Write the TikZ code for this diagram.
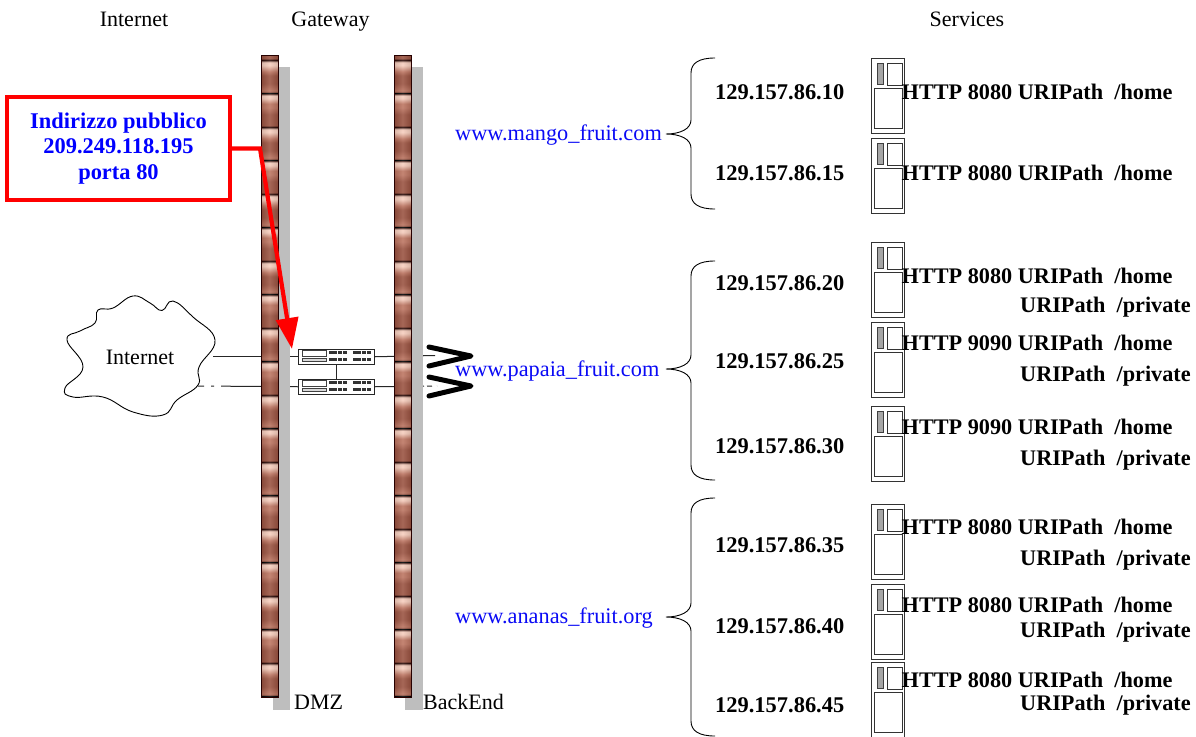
\documentclass[tikz,border=0pt]{standalone}
\usepackage{fontspec}
\setmainfont{Liberation Serif}
\usetikzlibrary{arrows.meta}
\definecolor{wallgrey}{HTML}{BEBEBE}
\definecolor{linkblue}{HTML}{0A0AF5}
\definecolor{bdark}{HTML}{2A0A06}
\definecolor{bmid}{HTML}{9A5240}
\definecolor{bmidb}{HTML}{BC7460}
\definecolor{blight}{HTML}{F6CDBD}
\pgfdeclareverticalshading{brickshadea}{100bp}{
  color(0bp)=(bdark); color(25bp)=(bdark); color(28bp)=(bmid); color(44bp)=(bmid);
  color(54bp)=(bmidb); color(60bp)=(bmidb); color(68bp)=(blight); color(72bp)=(blight);
  color(75bp)=(bdark); color(100bp)=(bdark)}
\pgfdeclareverticalshading{brickshadeb}{100bp}{
  color(0bp)=(bdark); color(25bp)=(bdark); color(29bp)=(bmidb); color(40bp)=(bmid);
  color(52bp)=(bmid); color(58bp)=(bmidb); color(67bp)=(blight); color(71.5bp)=(blight);
  color(75bp)=(bdark); color(100bp)=(bdark)}
\tikzset{
  x=1pt, y=-1pt,
  txt/.style={inner sep=0pt, anchor=base, font=\fontsize{22}{26}\selectfont},
  plain/.style={txt, anchor=base west},
  ip/.style={plain, font=\fontsize{22.45}{26}\selectfont\bfseries},
  svc/.style={plain, font=\fontsize{22.25}{26}\selectfont\bfseries},
  url/.style={plain, text=linkblue, font=\fontsize{22.3}{26}\selectfont},
  wire/.style={draw=black!85, line width=1pt},
  chev/.style={draw=black, line width=5pt, line join=round, line cap=round},
  brace/.style={draw=black, line width=0.9pt},
  outerbox/.style={draw=black!80, fill=white, line width=0.9pt},
  innerbox/.style={draw=black!80, fill=white, line width=0.9pt},
  switchbox/.style={draw=black!85, fill=white, line width=1pt, minimum width=76pt, minimum height=14.5pt, inner sep=0pt, anchor=north west},
  port/.style={fill=black!80},
  redbox/.style={draw=red, fill=white, line width=4pt, minimum width=223pt, minimum height=103pt, inner sep=0pt, align=center,
     text=blue, font=\fontsize{22.45}{25.5}\selectfont\bfseries},
  redarrow/.style={draw=red, line width=4.2pt, -{Triangle[length=31pt,width=22pt]}},
}
\newcommand{\firewall}[2]{% #1 = left x of bricks, #2 = left x of grey foot
  \fill[wallgrey] (#1+17,67) rectangle (#1+29,710);
  \fill[wallgrey] (#2,697) rectangle (#1+29,710);
  \begin{scope}
    \clip (#1,55) rectangle (#1+17,697);
    \foreach \k in {-1,...,19} {
      \pgfmathparse{isodd(\k)?"brickshadea":"brickshadeb"}
      \edef\brickname{\pgfmathresult}
      \shade[shading=\brickname] (#1,{60+33.5*\k}) rectangle (#1+17,{60+33.5*(\k+1)+0.3});
    }
    \shade[left color=black, right color=black, middle color=white, opacity=0.12] (#1,55) rectangle (#1+17,697);
  \end{scope}
  \draw[line width=1pt, draw=black!85!red] (#1,55) rectangle (#1+17,697);
}
\newcommand{\server}[2]{% #1 name, #2 top y
  \node[outerbox, minimum width=33pt, minimum height=75pt, inner sep=0pt, anchor=north west] (#1) at (871,#2) {};
  \draw[draw=black!75, fill=black!35, line width=0.9pt] (877,#2+5) rectangle (883,#2+26);
  \draw[innerbox] (887,#2+5) rectangle (902,#2+27);
  \draw[innerbox] (874,#2+30) rectangle (902,#2+70);
}
\newcommand{\switchparts}[2]{% #1 node name, #2 top y
  \draw[draw=black!75, line width=0.9pt, fill=white] (302,#2+1.5) rectangle (326,#2+7);
  \draw[draw=black!75, line width=0.9pt, fill=black!15] (302,#2+9.5) rectangle (326,#2+12);
  \foreach \px in {328.5,333.3,338.1,342.9,352.5,357.3,362.1,366.9} {
    \fill[port] (\px,#2+1.5) rectangle (\px+4,#2+5.4);
    \fill[port] (\px,#2+8.5) rectangle (\px+4,#2+12.4);
  }
}
\newcommand{\bracecurve}[4]{% #1 top y, #2 tip y, #3 bottom y, #4 name
  \coordinate (#4) at (666,#2);
  \draw[brace] (715,#1) .. controls (699,#1) and (691,#1+5) .. (691,#1+15)
     -- (691,#2-14) .. controls (691,#2-5) and (680,#2) .. (#4)
     .. controls (680,#2) and (691,#2+5) .. (691,#2+14)
     -- (691,#3-15) .. controls (691,#3-5) and (699,#3) .. (715,#3);
}
\begin{document}
\begin{tikzpicture}
\useasboundingbox (0,0) rectangle (1196,736);

% headers
\node[txt] (hInternet) at (134,27) {Internet};
\node[txt] (hGateway) at (330.5,27) {Gateway};
\node[txt] (hServices) at (967,27) {Services};

% cloud
\draw[line width=0.9pt, fill=white] plot[smooth cycle, tension=0.75] coordinates {
 (162,310.5) (173,301) (193,317) (215,340) (199,367) (198,385) (177,400) (163,415) (133,412)
 (103,397) (73,397) (65,388) (83,367) (67,340) (80,331) (95,323) (98,310) (113,308) (133,296) (150,303)};
\node[txt] (cloud) at (140,364) {Internet};
\coordinate (cloudA) at (213,356);
\coordinate (cloudB) at (198,386);
\coordinate (outA) at (435,355.5);
\coordinate (outB) at (437,386);

% switches (nodes first so connectors can use them)
\node[switchbox] (sw1) at (298,349) {};
\node[switchbox] (sw2) at (298,379) {};

% connectors under the walls
\draw[wire] (cloudA) -- (sw1.west |- cloudA);
\draw[wire, dash pattern=on 77pt off 7pt on 3pt off 7pt on 8pt off 100pt] (sw2.west) -- (cloudB);
\draw[wire] (sw1.east) -- (outA);
\draw[wire, dash pattern=on 49pt off 3pt on 5pt off 5pt on 2pt off 100pt] (sw2.east) -- (outB);
\draw[wire] (sw1.south) -- (sw2.north);

% walls
\firewall{261}{273}
\firewall{394}{405}

% switches again, on top of walls
\node[switchbox] at (298,349) {};
\node[switchbox] at (298,379) {};
\switchparts{sw1}{349}
\switchparts{sw2}{379}

% chevrons
\coordinate (c1a) at (429,347); \coordinate (c1b) at (471,356); \coordinate (c1c) at (429,366);
\coordinate (c2a) at (429,377); \coordinate (c2b) at (471,386); \coordinate (c2c) at (429,396);
\draw[chev] (c1a) -- (c1b) -- (c1c);
\draw[chev] (c2a) -- (c2b) -- (c2c);

% red callout
\node[redbox] (callout) at (118.5,148.5) {Indirizzo pubblico\\209.249.118.195\\porta 80};
\coordinate (bend) at (260,148.5);
\coordinate (redtip) at (292,349);
\draw[redarrow] (callout.east) -- (bend) -- (redtip);

% labels at wall feet
\node[plain] (dmz) at (294,709) {DMZ};
\node[plain] (backend) at (423,709) {BackEnd};

% urls
\node[url] (u1) at (455,140) {www.mango\_fruit.com};
\node[url] (u2) at (455,376) {www.papaia\_fruit.com};
\node[url] (u3) at (455,623) {www.ananas\_fruit.org};

% braces
\bracecurve{58}{134}{209}{b1}
\bracecurve{261}{369}{480}{b2}
\bracecurve{498}{617}{736}{b3}

% servers
\server{s1}{58}
\server{s2}{138}
\server{s3}{242}
\server{s4}{322}
\server{s5}{406}
\server{s6}{504}
\server{s7}{584}
\server{s8}{662}

% IP addresses
\node[ip] (ip1) at (715,99) {129.157.86.10};
\node[ip] (ip2) at (715,180) {129.157.86.15};
\node[ip] (ip3) at (715,290) {129.157.86.20};
\node[ip] (ip4) at (715,368) {129.157.86.25};
\node[ip] (ip5) at (715,453) {129.157.86.30};
\node[ip] (ip6) at (715,552) {129.157.86.35};
\node[ip] (ip7) at (715,633) {129.157.86.40};
\node[ip] (ip8) at (715,712) {129.157.86.45};

% services
\node[svc] (h1) at (901.5,99) {HTTP 8080 URIPath\ \ /home};
\node[svc] (h2) at (901.5,180) {HTTP 8080 URIPath\ \ /home};
\node[svc] (h3) at (901.5,283) {HTTP 8080 URIPath\ \ /home};
\node[svc] (p3) at (1020,312) {URIPath\ \ /private};
\node[svc] (h4) at (901.5,350) {HTTP 9090 URIPath\ \ /home};
\node[svc] (p4) at (1020,381) {URIPath\ \ /private};
\node[svc] (h5) at (901.5,434) {HTTP 9090 URIPath\ \ /home};
\node[svc] (p5) at (1020,465) {URIPath\ \ /private};
\node[svc] (h6) at (901.5,534) {HTTP 8080 URIPath\ \ /home};
\node[svc] (p6) at (1020,565) {URIPath\ \ /private};
\node[svc] (h7) at (901.5,612) {HTTP 8080 URIPath\ \ /home};
\node[svc] (p7) at (1020,637) {URIPath\ \ /private};
\node[svc] (h8) at (901.5,687) {HTTP 8080 URIPath\ \ /home};
\node[svc] (p8) at (1020,710) {URIPath\ \ /private};
\end{tikzpicture}
\end{document}
